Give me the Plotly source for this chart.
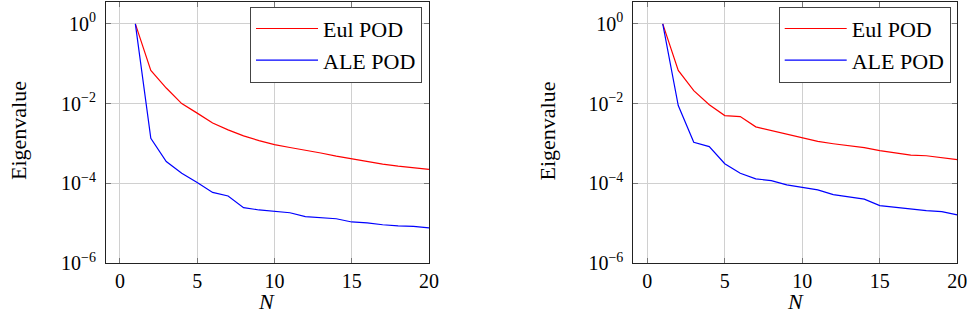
import plotly.graph_objects as go

N = list(range(1, 21))

# Left panel
left_eul = [1.0, 6.8e-2, 2.45e-2, 1.0e-2, 5.75e-3, 3.24e-3, 2.19e-3, 1.55e-3, 1.17e-3, 9.3e-4,
            7.9e-4, 6.8e-4, 5.75e-4, 4.8e-4, 4.07e-4, 3.47e-4, 3.02e-4, 2.69e-4, 2.45e-4, 2.24e-4]
left_ale = [1.0, 1.35e-3, 3.5e-4, 1.78e-4, 1.05e-4, 5.9e-5, 4.8e-5, 2.45e-5, 2.14e-5, 2.0e-5,
            1.82e-5, 1.45e-5, 1.35e-5, 1.29e-5, 1.07e-5, 1.02e-5, 9.1e-6, 8.5e-6, 8.3e-6, 7.6e-6]

# Right panel
right_eul = [1.0, 6.8e-2, 2.1e-2, 9.3e-3, 5.0e-3, 4.7e-3, 2.6e-3, 2.1e-3, 1.74e-3, 1.35e-3,
             1.12e-3, 9.8e-4, 8.7e-4, 7.8e-4, 6.6e-4, 5.9e-4, 5.1e-4, 4.9e-4, 4.3e-4, 3.9e-4]
right_ale = [1.0, 8.9e-3, 1.07e-3, 8.3e-4, 3.1e-4, 1.78e-4, 1.29e-4, 1.17e-4, 9.1e-5, 7.8e-5,
             6.8e-5, 5.2e-5, 4.6e-5, 4.0e-5, 2.75e-5, 2.5e-5, 2.35e-5, 2.05e-5, 1.95e-5, 1.62e-5]

x_ticks = [0, 5, 10, 15, 20]
y_tickvals = [1, 1e-2, 1e-4, 1e-6]
y_ticktext = ["10<sup>0</sup>", "10<sup>−2</sup>", "10<sup>−4</sup>", "10<sup>−6</sup>"]

FONT = "Liberation Serif"
FS_TICK = 20
FS_LAB = 22

fig = go.Figure()

fig.add_trace(go.Scatter(x=N, y=left_eul, mode="lines", name="Eul POD",
                         line=dict(color="#ff0000", width=1.2), xaxis="x", yaxis="y", legend="legend"))
fig.add_trace(go.Scatter(x=N, y=left_ale, mode="lines", name="ALE POD",
                         line=dict(color="#0000ff", width=1.2), xaxis="x", yaxis="y", legend="legend"))
fig.add_trace(go.Scatter(x=N, y=right_eul, mode="lines", name="Eul POD",
                         line=dict(color="#ff0000", width=1.2), xaxis="x2", yaxis="y2", legend="legend2"))
fig.add_trace(go.Scatter(x=N, y=right_ale, mode="lines", name="ALE POD",
                         line=dict(color="#0000ff", width=1.2), xaxis="x2", yaxis="y2", legend="legend2"))

xax = dict(range=[-0.9, 20], tickvals=x_ticks, showgrid=True, gridcolor="#d0d0d0", gridwidth=1,
           showline=True, linecolor="#222", linewidth=1, mirror="ticks", ticks="inside",
           ticklen=5, tickcolor="#777", zeroline=False, ticklabelstandoff=0, automargin=False,
           ticklabeloverflow="allow",
           tickfont=dict(family=FONT, size=FS_TICK, color="#000"))
yax = dict(type="log", range=[-6, 0.56], tickvals=y_tickvals, ticktext=y_ticktext,
           showgrid=True, gridcolor="#d0d0d0", gridwidth=1,
           showline=True, linecolor="#222", linewidth=1, mirror="ticks", ticks="inside",
           ticklen=5, tickcolor="#777", zeroline=False, ticklabelstandoff=5, automargin=False,
           ticklabeloverflow="allow",
           tickfont=dict(family=FONT, size=FS_TICK, color="#000"))

ydom = [64 / 327, 325.5 / 327]
leg = dict(xanchor="right", yanchor="top", bgcolor="white", bordercolor="#444", borderwidth=1,
           font=dict(family=FONT, size=FS_LAB, color="#000"), itemwidth=62, tracegroupgap=0)

ann_font = dict(family=FONT, size=FS_LAB, color="#000")
fig.update_layout(
    template="none",
    width=967, height=327,
    margin=dict(l=0, r=0, t=0, b=0, autoexpand=False),
    paper_bgcolor="white", plot_bgcolor="white",
    showlegend=True,
    xaxis=dict(xax, domain=[106 / 967, 429 / 967], anchor="y"),
    yaxis=dict(yax, domain=ydom, anchor="x"),
    xaxis2=dict(xax, domain=[633.3 / 967, 957.3 / 967], anchor="y2"),
    yaxis2=dict(yax, domain=ydom, anchor="x2"),
    legend=dict(leg, x=422 / 967, y=1 - 6.7 / 327),
    legend2=dict(leg, x=950.7 / 967, y=1 - 6.7 / 327),
    annotations=[
        dict(text="Eigenvalue", x=18 / 967, y=1 - 131 / 327, xref="paper", yref="paper",
             xanchor="center", yanchor="middle", textangle=-90, showarrow=False, font=ann_font),
        dict(text="Eigenvalue", x=546.5 / 967, y=1 - 131 / 327, xref="paper", yref="paper",
             xanchor="center", yanchor="middle", textangle=-90, showarrow=False, font=ann_font),
        dict(text="<i>N</i>", x=266.7 / 967, y=1 - 301.5 / 327, xref="paper", yref="paper",
             xanchor="center", yanchor="middle", showarrow=False, font=ann_font),
        dict(text="<i>N</i>", x=795 / 967, y=1 - 301.5 / 327, xref="paper", yref="paper",
             xanchor="center", yanchor="middle", showarrow=False, font=ann_font),
    ],
)

fig.write_html("out.html")
